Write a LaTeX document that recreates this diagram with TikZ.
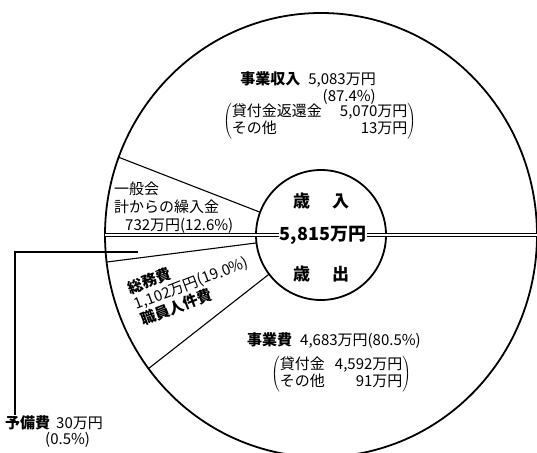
\documentclass[tikz,border=0pt]{standalone}
\usepackage{fontspec}
\newfontfamily\jp{Noto Sans CJK JP}
\usetikzlibrary{calc}

\begin{document}
\begin{tikzpicture}[x=1pt, y=-1pt,
rim/.style   = {line width=1.8pt},
cut/.style   = {line width=1.1pt},
split/.style = {double, line width=0.7pt, double distance=2.2pt},
lbl/.style   = {inner sep=0pt, align=left,
                font=\jp\fontsize{15}{16}\selectfont},
big/.style   = {inner sep=1pt,
                font=\jp\bfseries\fontsize{17}{17}\selectfont},
                    ]
\useasboundingbox (0,0) rectangle (537,452);
\coordinate (c) at (321,235);
\draw[rim] (c) ellipse [x radius=216, y radius=222];
\draw[rim] (c) circle [radius=65];
\foreach \a in {159.5,187,217}
    \draw[cut] ($(c)+(-\a:216 and 222)$) -- ($(c)+(-\a:65)$);

\node[big, font=\jp\bfseries\fontsize{18}{18}\selectfont]
                            (t)   at (323,235) {5,815万円};
\node[big]                  (r)   at (321,201) {歳\hspace{22pt}入};
\node[big]                  (e)   at (321,274) {歳\hspace{22pt}出};
\draw[split] ($(c)+(180:216)$) -- (t.west);
\draw[split] (t.east) -- (537,235);

\node[lbl, align=right, anchor=north east,
      font=\jp\fontsize{15}{17}\selectfont] (inc) at (376,71)
    {{\bfseries 事業収入}\hspace{8pt}5,083万円\\(87.4\%)};
\node[lbl, anchor=west]     (incd) at (223,121)
    {$\left(\begin{tabular}{@{}l@{\hspace{18pt}}r@{}}
     貸付金返還金 & 5,070万円\\ その他 & 13万円\end{tabular}\right)$};
\node[lbl, anchor=north west,
      font=\jp\fontsize{15}{18}\selectfont] (gen) at (114,182)
    {一般会\\計からの繰入金\\\hspace*{11pt}732万円(12.6\%)};

\node[lbl, anchor=west]     (exp) at (247,341)
    {{\bfseries 事業費}\hspace{8pt}4,683万円(80.5\%)};
\node[lbl, anchor=west]     (expd) at (271,374)
    {$\left(\begin{tabular}{@{}l@{\hspace{10pt}}r@{}}
     貸付金 & 4,592万円\\ その他 & 91万円\end{tabular}\right)$};
\node[lbl, rotate=21, anchor=north west,
      font=\jp\fontsize{15}{17}\selectfont] (adm) at (126,282)
    {{\bfseries 総務費}\\1,102万円(19.0\%)\\{\bfseries 職員人件費}};

\coordinate (res) at (138,252);
\node[lbl, anchor=north west] (yobi) at (5,415)
    {{\bfseries 予備費}\hspace{6pt}30万円\\\hspace*{40pt}(0.5\%)};
\draw[cut] (res) -| ($(yobi.north west)+(10,0)$);
\end{tikzpicture}
\end{document}
